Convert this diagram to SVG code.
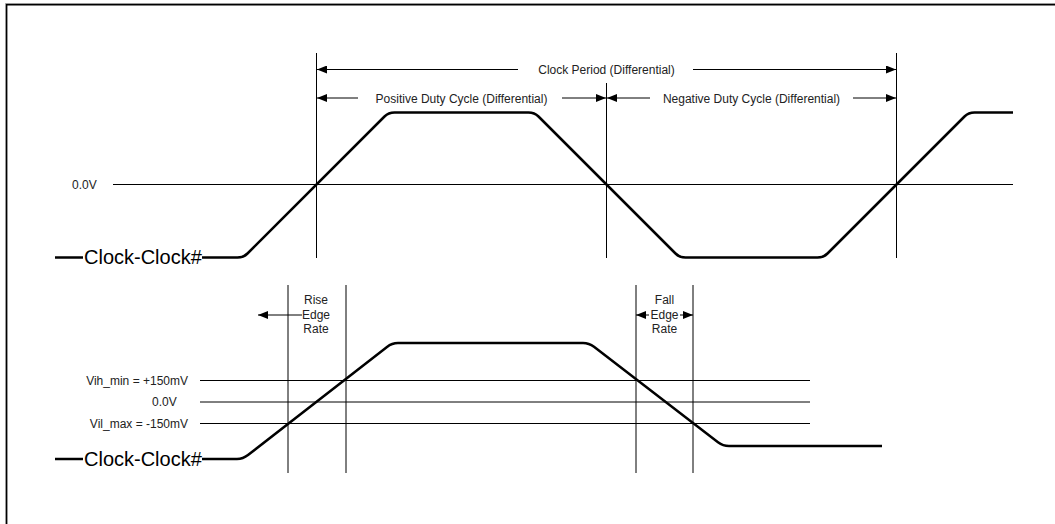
<svg xmlns="http://www.w3.org/2000/svg" width="1055" height="524" viewBox="0 0 1055 524">
  <style>
    .thin { stroke: #000; stroke-width: 1; fill: none; }
    .wave { stroke: #000; stroke-width: 2.5; fill: none; stroke-linejoin: round; }
    .dim { stroke: #000; stroke-width: 1; fill: none; marker-end: url(#arrow); }
    .lbl { font-family: "Liberation Sans", Arial, sans-serif; font-size: 12px; fill: #222; }
    .big { font-family: "Liberation Sans", Arial, sans-serif; font-size: 20px; fill: #000; }
  </style>
  <defs>
    <marker id="arrow" markerUnits="userSpaceOnUse" markerWidth="10" markerHeight="8" refX="10" refY="4" orient="auto">
      <path d="M0,0 L10,4 L0,8 z" fill="#000"/>
    </marker>
  </defs>
  <rect width="1055" height="524" fill="#fff"/>

  <g id="frame">
    <path d="M5.5 600 V3.5 H1100" stroke="#999" stroke-width="1" fill="none"/>
    <path d="M6.7 600 V4.7 H1100" stroke="#000" stroke-width="1.4" fill="none"/>
  </g>

  <g id="top-diagram">
    <g id="top-reference">
      <line class="thin" x1="113" y1="184.5" x2="1013" y2="184.5"/>
      <text class="lbl" x="72" y="188.5">0.0V</text>
    </g>
    <g id="top-markers">
      <line class="thin" x1="316.5" y1="53" x2="316.5" y2="258"/>
      <line class="thin" x1="606.5" y1="83" x2="606.5" y2="258"/>
      <line class="thin" x1="896.5" y1="53" x2="896.5" y2="258"/>
    </g>
    <g id="top-waveform">
      <line class="wave" x1="55" y1="257.5" x2="83" y2="257.5"/>
      <path class="wave" d="M202 257.5 H237.5 Q243.5 257.5 247.5 253.5 L384.5 116.5 Q388.5 112.5 394.5 112.5 H528.5 Q534.5 112.5 538.5 116.5 L675.5 253.5 Q679.5 257.5 685.5 257.5 H817.5 Q823.5 257.5 827.5 253.5 L964.5 116.5 Q968.5 112.5 974.5 112.5 H1013"/>
      <text class="big" x="84" y="264">Clock-Clock#</text>
    </g>
  </g>

  <g id="bottom-diagram">
    <g id="bottom-reference">
      <line class="thin" x1="200" y1="380.5" x2="810" y2="380.5"/>
      <line class="thin" x1="200" y1="402" x2="810" y2="402"/>
      <line class="thin" x1="200" y1="423.5" x2="810" y2="423.5"/>
      <text class="lbl" x="188" y="384.5" text-anchor="end">Vih_min = +150mV</text>
      <text class="lbl" x="152" y="406">0.0V</text>
      <text class="lbl" x="188" y="427.5" text-anchor="end">Vil_max = -150mV</text>
    </g>
    <g id="bottom-markers">
      <line class="thin" x1="288" y1="285" x2="288" y2="473"/>
      <line class="thin" x1="346" y1="285" x2="346" y2="473"/>
      <line class="thin" x1="636" y1="285" x2="636" y2="473"/>
      <line class="thin" x1="693" y1="285" x2="693" y2="473"/>
    </g>
    <g id="bottom-waveform">
      <line class="wave" x1="55" y1="459" x2="83" y2="459"/>
      <path class="wave" d="M202 459 H237 Q243 459 248 455.1 L387 346.9 Q392 343 398 343 H583 Q589 343 594 346.8 L718 442.2 Q723 446 729 446 H882"/>
      <text class="big" x="84" y="466">Clock-Clock#</text>
    </g>
    <g id="rise-label">
      <text class="lbl" x="316" y="304" text-anchor="middle">Rise</text>
      <text class="lbl" x="316" y="318.5" text-anchor="middle">Edge</text>
      <text class="lbl" x="316" y="333" text-anchor="middle">Rate</text>
    </g>
    <g id="fall-label">
      <text class="lbl" x="664.5" y="304" text-anchor="middle">Fall</text>
      <text class="lbl" x="664.5" y="318.5" text-anchor="middle">Edge</text>
      <text class="lbl" x="664.5" y="333" text-anchor="middle">Rate</text>
    </g>
  </g>

  <g id="dimension-labels">
    <text class="lbl" x="606.5" y="73.5" text-anchor="middle">Clock Period (Differential)</text>
    <text class="lbl" x="461.5" y="102.5" text-anchor="middle">Positive Duty Cycle (Differential)</text>
    <text class="lbl" x="751.5" y="102.5" text-anchor="middle">Negative Duty Cycle (Differential)</text>
  </g>

  <g id="connectors">
    <line class="dim" x1="518" y1="69.5" x2="317" y2="69.5"/>
    <line class="dim" x1="693" y1="69.5" x2="896" y2="69.5"/>
    <line class="dim" x1="358" y1="98" x2="317" y2="98"/>
    <line class="dim" x1="562" y1="98" x2="606" y2="98"/>
    <line class="dim" x1="650" y1="98" x2="607" y2="98"/>
    <line class="dim" x1="853" y1="98" x2="896" y2="98"/>
    <line class="dim" x1="302" y1="315" x2="258" y2="315"/>
    <line class="dim" x1="649" y1="315" x2="636" y2="315"/>
    <line class="dim" x1="680" y1="315" x2="693" y2="315"/>
  </g>
</svg>
